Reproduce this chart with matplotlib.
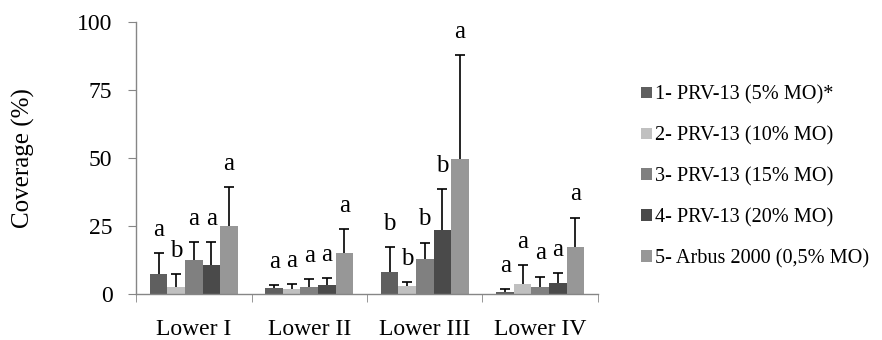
import matplotlib
matplotlib.use("Agg")
import matplotlib.pyplot as plt
import numpy as np

# data
categories = ["Lower I", "Lower II", "Lower III", "Lower IV"]
series_names = ["1- PRV-13 (5% MO)*", "2- PRV-13 (10% MO)", "3- PRV-13 (15% MO)",
                "4- PRV-13 (20% MO)", "5- Arbus 2000 (0,5% MO)"]

# mean coverage per series (rows) and category (columns)
means = [
    [7.2, 2.1, 8.0, 0.9],
    [2.5, 2.0, 2.9, 3.8],
    [12.4, 2.7, 12.7, 2.7],
    [10.8, 3.3, 23.5, 4.2],
    [25.1, 15.2, 49.5, 17.4],
]
# top of the error bar (mean + sd)
err_top = [
    [15.2, 3.2, 17.4, 1.8],
    [7.4, 3.7, 4.5, 10.7],
    [19.2, 5.5, 18.9, 6.4],
    [19.2, 6.0, 38.5, 7.8],
    [39.2, 23.9, 87.9, 28.1],
]
letters = [
    ["a", "a", "b", "a"],
    ["b", "a", "b", "a"],
    ["a", "a", "b", "a"],
    ["a", "a", "b", "a"],
    ["a", "a", "a", "a"],
]

colors = ["#5f5f5f", "#c0c0c0", "#808080", "#4a4a4a", "#979797"]
axis_gray = "#868686"

plt.rcParams["font.family"] = ["Liberation Serif", "DejaVu Serif"]

fig = plt.figure(figsize=(8.82, 3.4), dpi=100)
ax = fig.add_axes([0.1542, 0.1353, 0.5238, 0.80])

x = np.arange(len(categories))
width = 0.152
nser = len(series_names)

for i in range(nser):
    pos = x + (i - (nser - 1) / 2) * width
    m = np.array(means[i])
    top = np.array(err_top[i])
    ax.bar(pos, m, width, color=colors[i], label=series_names[i], zorder=2)
    # upper error bar only, with a cap at the top (Excel style)
    ax.vlines(pos, m, top, color="black", linewidth=1.2, zorder=3)
    ax.plot(pos, top, linestyle="none", marker="_", markersize=7.5,
            markeredgewidth=1.2, color="black", zorder=3)
    for j in range(len(categories)):
        ax.text(pos[j], top[j] + 6.3, letters[i][j], ha="center", va="baseline",
                fontsize=18, color="black")

ax.set_xlim(-0.5, len(categories) - 0.5)
ax.set_ylim(0, 100)
ax.set_yticks([0, 25, 50, 75, 100])
ax.tick_params(axis="y", length=6, color=axis_gray, labelsize=17, pad=11, direction="out")

ax.set_xticks(x)
ax.set_xticklabels(categories)
ax.tick_params(axis="x", which="major", length=0, labelsize=17, pad=18)
ax.set_xticks(np.arange(len(categories) + 1) - 0.5, minor=True)
ax.tick_params(axis="x", which="minor", length=6, color=axis_gray, direction="out")

for s in ["top", "right"]:
    ax.spines[s].set_visible(False)
for s in ["left", "bottom"]:
    ax.spines[s].set_color(axis_gray)
    ax.spines[s].set_linewidth(1.0)

ax.set_ylabel("Coverage (%)", fontsize=18, labelpad=30)

fig.legend(loc="center left", bbox_to_anchor=(0.718, 0.48), frameon=False,
           fontsize=14.6, handlelength=0.5, handleheight=0.5, handletextpad=0.15,
           labelspacing=1.07, borderaxespad=0)

fig.savefig("out.png", dpi=100)
